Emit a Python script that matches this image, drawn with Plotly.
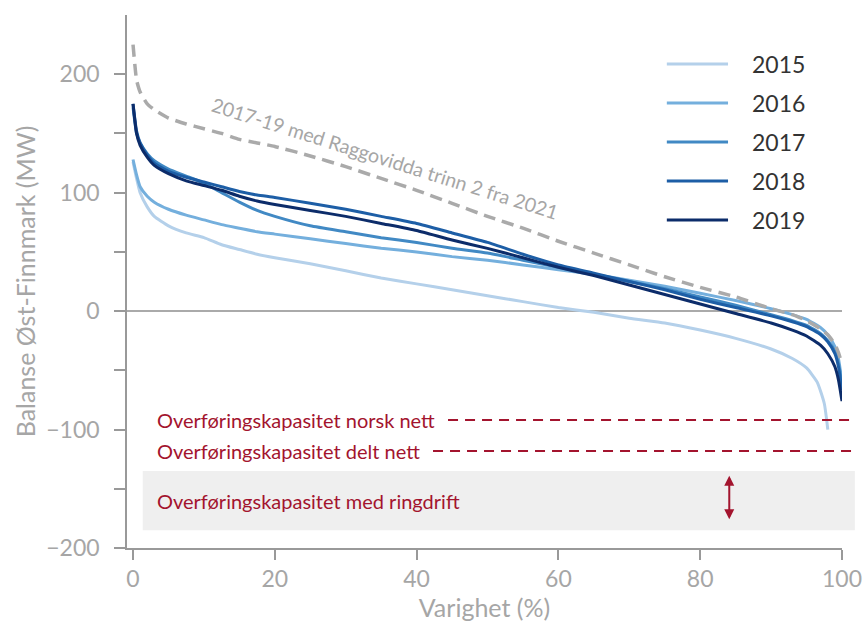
import plotly.graph_objects as go

# ---------------- data ----------------
X = [0, 0.5, 1, 2, 3, 5, 7.5, 10, 12.5, 15, 17.5, 20, 25, 30, 35, 40, 45, 50,
     55, 60, 65, 70, 75, 80, 85, 90, 93, 95, 97, 98, 99, 99.5, 100]

X_2015 = [0, 0.5, 1, 2, 3, 5, 7.5, 10, 12.5, 15, 17.5, 20, 25, 30, 35, 40, 45, 50,
          55, 60, 65, 70, 75, 80, 85, 90, 93, 95, 96.5, 97.5, 98]

v2015 = [126, 112, 100, 88, 80, 72, 66, 62, 56, 52, 48, 45, 40, 34, 28, 23, 18, 13,
         8, 3, -1, -6, -10, -16, -23, -32, -40, -48, -60, -78, -100]
v2016 = [128, 115, 105, 97, 92, 86, 81, 77, 73, 70, 67, 65, 61, 57, 53, 50, 46, 43,
         39, 35, 31, 26, 21, 15, 9, 2, -3, -7, -14, -20, -30, -40, -60]
v2017 = [172, 150, 142, 133, 127, 120, 114, 108, 100, 92, 85, 80, 72, 67, 62, 58, 53, 49,
         43, 37, 31, 25, 19, 12, 5, -3, -8, -12, -19, -25, -34, -44, -62]
v2018 = [175, 152, 142, 132, 125, 118, 113, 109, 105, 101, 98, 96, 91, 86, 80, 74, 66, 58,
         48, 39, 32, 25, 18, 10, 3, -4, -9, -13, -20, -26, -36, -47, -67]
v2019 = [175, 150, 140, 130, 123, 116, 110, 106, 102, 97, 93, 90, 85, 80, 74, 68, 60, 53,
         45, 37, 30, 22, 14, 6, -2, -10, -16, -21, -29, -36, -47, -58, -76]
v_ragg = [225, 195, 185, 175, 170, 163, 158, 154, 150, 145, 142, 139, 131, 122, 112, 102, 91, 80,
          70, 59, 49, 39, 29, 20, 12, 2, -3, -8, -15, -20, -28, -35, -45]

YEARS = ["2015", "2016", "2017", "2018", "2019"]
COLORS = ["#b4d0ea", "#74afdd", "#4189c4", "#1d5ea6", "#0c2c6a"]
SERIES = [(X_2015, v2015), (X, v2016), (X, v2017), (X, v2018), (X, v2019)]

RAGG_LABEL = "2017-19 med Raggovidda trinn 2 fra 2021"
CAP_NORSK = -92
CAP_DELT = -118
RING_LOW, RING_HIGH = -185, -135
LABEL_NORSK = "Overføringskapasitet norsk nett"
LABEL_DELT = "Overføringskapasitet delt nett"
LABEL_RING = "Overføringskapasitet med ringdrift"

Y_TICKS = [-200, -150, -100, -50, 0, 50, 100, 150, 200]
Y_TEXT = ["\u2212200", "", "\u2212100", "", "0", "", "100", "", "200"]
X_TICKS = [0, 20, 40, 60, 80, 100]

# ---------------- figure ----------------
GRAY = "#a6a6a6"
RED = "#a3142e"
FONT = "Lato"

fig = go.Figure()

for (xs, ys), yr, col in zip(SERIES, YEARS, COLORS):
    fig.add_trace(go.Scatter(
        x=xs, y=ys, mode="lines", name=yr,
        line=dict(color=col, width=3, shape="spline", smoothing=0.5),
        showlegend=False))

fig.add_trace(go.Scatter(
    x=X, y=v_ragg, mode="lines", name=RAGG_LABEL,
    line=dict(color="#aaaaaa", width=3.5, dash="12px,7px", shape="spline", smoothing=0.5),
    showlegend=False))

shapes = []
annotations = []

# capacity band
shapes.append(dict(type="rect", xref="paper", yref="y", x0=0.022, x1=1.018,
                   y0=RING_LOW, y1=RING_HIGH, fillcolor="#efefef", line=dict(width=0),
                   layer="below"))
# dashed capacity lines
shapes.append(dict(type="line", xref="paper", yref="y", x0=0.449, x1=1.018,
                   y0=CAP_NORSK, y1=CAP_NORSK, line=dict(color=RED, width=2, dash="10px,7px")))
shapes.append(dict(type="line", xref="paper", yref="y", x0=0.428, x1=1.018,
                   y0=CAP_DELT, y1=CAP_DELT, line=dict(color=RED, width=2, dash="10px,7px")))

for txt, yv in [(LABEL_NORSK, CAP_NORSK), (LABEL_DELT, CAP_DELT),
                (LABEL_RING, (RING_LOW + RING_HIGH) / 2)]:
    annotations.append(dict(x=3.1, y=yv, xref="x", yref="y", text=txt, showarrow=False,
                            xanchor="left", yanchor="middle",
                            font=dict(family=FONT, size=20, color=RED)))

# double arrow
annotations.append(dict(x=84.1, y=RING_HIGH - 4, ax=84.1, ay=RING_LOW + 8,
                        xref="x", yref="y", axref="x", ayref="y", text="",
                        showarrow=True, arrowhead=2, arrowside="end+start",
                        arrowsize=1, arrowwidth=2, arrowcolor=RED))

# rotated label along dashed line
annotations.append(dict(x=35.6, y=128.5, xref="x", yref="y", text=RAGG_LABEL,
                        showarrow=False, textangle=17.5,
                        font=dict(family=FONT, size=19.5, color=GRAY)))

# manual legend
for i, (yr, col) in enumerate(zip(YEARS, COLORS)):
    yp = 0.908 - i * 0.0732
    shapes.append(dict(type="line", xref="paper", yref="paper", x0=0.755, x1=0.8406,
                       y0=yp, y1=yp, line=dict(color=col, width=3)))
    annotations.append(dict(x=0.871, y=yp, xref="paper", yref="paper", text=yr,
                            showarrow=False, xanchor="left", yanchor="middle",
                            font=dict(family=FONT, size=23, color="#333333")))

fig.update_layout(
    width=864, height=626,
    margin=dict(l=127, r=22, t=15, b=78, autoexpand=False),
    paper_bgcolor="white", plot_bgcolor="white",
    shapes=shapes, annotations=annotations,
    showlegend=False,
    font=dict(family=FONT, color=GRAY),
)

fig.update_xaxes(
    range=[-0.85, 100], tickvals=X_TICKS, showgrid=False, zeroline=False, automargin=False,
    showline=True, linecolor="#999999", linewidth=1.5,
    ticks="outside", ticklen=10, tickcolor="#999999", tickwidth=1.5,
    tickfont=dict(family=FONT, size=23, color=GRAY),
    title=dict(text="Varighet (%)", font=dict(family=FONT, size=25, color=GRAY), standoff=8),
)
fig.update_yaxes(
    range=[-200, 250], tickvals=Y_TICKS, ticktext=Y_TEXT, showgrid=False, automargin=False,
    zeroline=True, zerolinecolor="#aaaaaa", zerolinewidth=2,
    showline=True, linecolor="#999999", linewidth=1.5,
    ticks="outside", ticklen=11, tickcolor="#999999", tickwidth=1.5, ticklabelstandoff=10,
    tickfont=dict(family=FONT, size=23, color=GRAY),
    title=dict(text="Balanse Øst-Finnmark (MW)", font=dict(family=FONT, size=25, color=GRAY),
               standoff=4),
)

fig.write_html("out.html")
